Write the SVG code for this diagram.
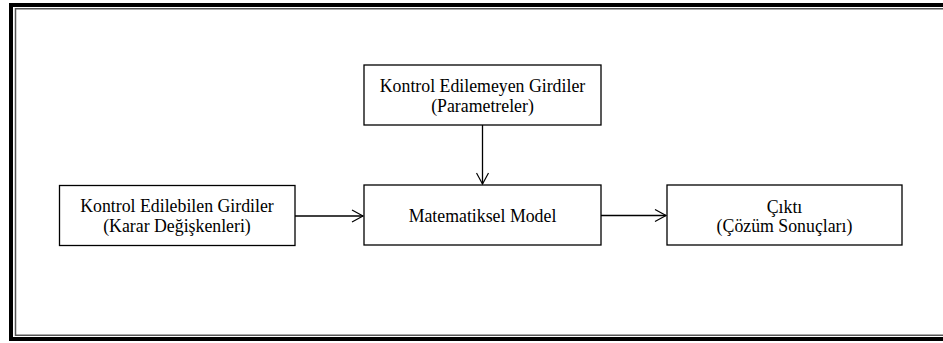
<svg xmlns="http://www.w3.org/2000/svg" width="943" height="343" viewBox="0 0 943 343">
<style>
.box{fill:#fff;stroke:#000;stroke-width:1.3}
.t{font-family:"Liberation Serif","Times New Roman",serif;font-size:17.8px;fill:#000;text-anchor:middle}
.c{stroke:#000;stroke-width:1.3;fill:none}
</style>
<defs>
<marker id="ah" markerWidth="14" markerHeight="14" refX="12" refY="7" orient="auto" markerUnits="userSpaceOnUse">
<path d="M1,1 L12,7 L1,13" fill="none" stroke="#000" stroke-width="1.2"/>
</marker>
</defs>
<rect width="943" height="343" fill="#fff"/>
<g id="frame">
<rect x="11" y="5" width="960" height="334" fill="none" stroke="#000" stroke-width="4"/>
<rect x="15.5" y="8.75" width="960" height="326.5" fill="none" stroke="#555" stroke-width="1.5"/>
</g>
<g id="connectors">
<line class="c" x1="482.5" y1="125" x2="482.5" y2="184" marker-end="url(#ah)"/>
<line class="c" x1="295" y1="216" x2="363" y2="216" marker-end="url(#ah)"/>
<line class="c" x1="601" y1="215.5" x2="666" y2="215.5" marker-end="url(#ah)"/>
</g>
<g id="node-params">
<rect class="box" x="364" y="65" width="237" height="60"/>
<text class="t" x="482.5" y="92">Kontrol Edilemeyen Girdiler</text>
<text class="t" x="482.5" y="111.5">(Parametreler)</text>
</g>
<g id="node-model">
<rect class="box" x="364" y="185" width="237" height="60"/>
<text class="t" x="482.5" y="221.5">Matematiksel Model</text>
</g>
<g id="node-inputs">
<rect class="box" x="59.5" y="185.5" width="235.5" height="60"/>
<text class="t" x="177" y="212">Kontrol Edilebilen Girdiler</text>
<text class="t" x="177" y="231.5">(Karar Değişkenleri)</text>
</g>
<g id="node-output">
<rect class="box" x="667" y="185" width="235" height="60"/>
<text class="t" x="784.5" y="213">Çıktı</text>
<text class="t" x="784.5" y="232">(Çözüm Sonuçları)</text>
</g>
</svg>
